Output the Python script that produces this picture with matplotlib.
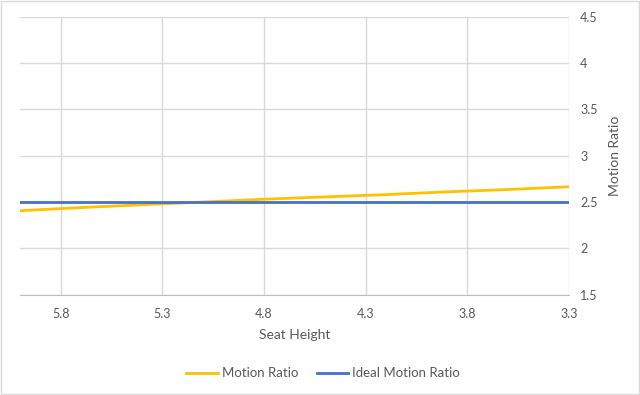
import matplotlib
matplotlib.use('Agg')
import matplotlib.pyplot as plt
from matplotlib.ticker import FuncFormatter
import numpy as np

plt.rcParams['font.family'] = ['Lato', 'DejaVu Sans']

seat_height = [6.0, 5.7, 5.4, 5.1, 4.8, 4.5, 4.2, 3.9, 3.6, 3.3]
motion_ratio = [2.406, 2.44, 2.47, 2.50, 2.53, 2.555, 2.58, 2.61, 2.635, 2.665]
ideal_ratio = [2.5] * len(seat_height)
x_ticks = [5.8, 5.3, 4.8, 4.3, 3.8, 3.3]
y_ticks = [1.5, 2, 2.5, 3, 3.5, 4, 4.5]

txt = '#595959'
grid = '#d9d9d9'

fig = plt.figure(figsize=(6.4, 3.95), dpi=100)
ax = fig.add_axes([0.03125, 0.2544, 0.889 - 0.03125, 0.957 - 0.2544])

ax.plot(seat_height, motion_ratio, color='#FFC000', lw=2.0, label='Motion Ratio')
ax.plot(seat_height, ideal_ratio, color='#4472C4', lw=2.0, label='Ideal Motion Ratio')

ax.set_xlim(6.0, 3.3)
ax.set_ylim(1.5, 4.5)
ax.set_xticks(x_ticks)
ax.set_yticks(y_ticks)
ax.yaxis.set_major_formatter(FuncFormatter(lambda v, p: '%g' % v))
ax.yaxis.tick_right()
ax.yaxis.set_label_position('right')
ax.grid(True, color=grid, lw=1)
ax.set_axisbelow(True)
for s in ['left', 'right', 'top']:
    ax.spines[s].set_visible(False)
ax.spines['bottom'].set_color('#bfbfbf')
ax.tick_params(axis='both', length=0, labelsize=9, colors=txt)
ax.tick_params(axis='x', pad=10)
ax.tick_params(axis='y', pad=8)

ax.set_xlabel('Seat Height', fontsize=10, color=txt, labelpad=6)
ax.set_ylabel('Motion Ratio', fontsize=10, color=txt, labelpad=8)

leg = fig.legend(loc='center', bbox_to_anchor=(0.505, 0.055), ncol=2, frameon=False,
                 fontsize=9.5, handlelength=2.4, columnspacing=1.4, handletextpad=0.3)
for t in leg.get_texts():
    t.set_color(txt)

# outer chart border
fig.patches.append(plt.Rectangle((0.001, 0.002), 0.997, 0.995, transform=fig.transFigure,
                                 fill=False, edgecolor='#d9d9d9', lw=1))

fig.savefig('out.png', dpi=100)
